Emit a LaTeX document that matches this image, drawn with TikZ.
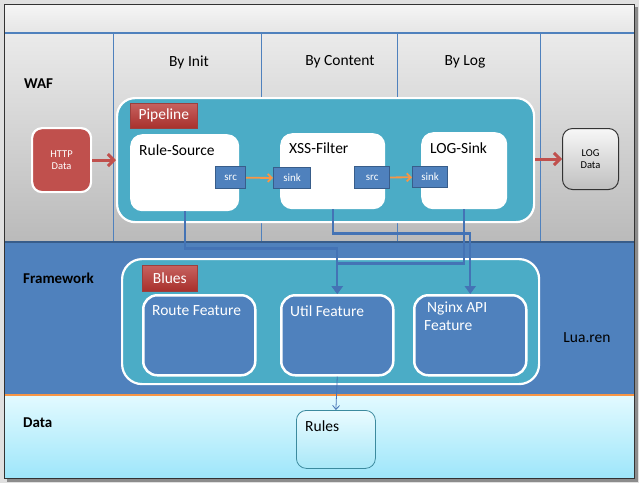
\documentclass[tikz,border=0pt]{standalone}
\usepackage{fontspec}
\setmainfont{Carlito}
\usetikzlibrary{arrows.meta,shadows}
\definecolor{tealc}{HTML}{4BACC6}
\definecolor{bluec}{HTML}{4F81BD}
\definecolor{blueb}{HTML}{385D8A}
\definecolor{redc}{HTML}{C0504D}
\definecolor{redd}{HTML}{A8302C}
\definecolor{orangec}{HTML}{F79646}
\definecolor{linec}{HTML}{4473B5}
\definecolor{datatop}{HTML}{E2FAFF}
\definecolor{databot}{HTML}{9EE6FA}
\definecolor{rulestop}{HTML}{EAFBFF}
\definecolor{rulesbot}{HTML}{A8E8F8}
\tikzset{
  lbl/.style={font=\fontsize{15.5}{18}\selectfont, inner sep=0pt},
  blbl/.style={font=\fontsize{15}{18}\selectfont\bfseries, inner sep=0pt},
  container/.style={draw=white, line width=2.2pt, fill=tealc, rounded corners=18pt, anchor=north west, inner sep=0pt},
  whitebox/.style={fill=white, rounded corners=12pt, anchor=north west, inner sep=0pt},
  featbox/.style={draw=white, line width=2.5pt, fill=bluec, rounded corners=14pt, anchor=north west, inner sep=0pt},
  tag/.style={top color=redc!90!white, bottom color=redd, draw=redc!80!black, line width=0.6pt, anchor=north west, inner sep=0pt, font=\fontsize{15.5}{18}\selectfont, text=white},
  port/.style={fill=bluec, draw=blueb, line width=1.2pt, anchor=north west, inner sep=0pt, text=white, font=\fontsize{11}{13}\selectfont},
  portarrow/.style={draw=orangec, line width=1.8pt, -{Straight Barb[length=4pt,width=8pt]}},
  bigarrow/.style={draw=redc, line width=3pt, -{Straight Barb[length=6pt,width=12pt]}},
  conn/.style={draw=linec, line width=2.4pt, -{Triangle[length=8pt,width=11pt]}},
  thinconn/.style={draw=linec, line width=0.8pt, -{Straight Barb[length=4pt,width=7pt]}},
  vline/.style={draw=bluec, line width=0.7pt}
}
\begin{document}
\begin{tikzpicture}[x=1pt,y=-1pt]
\useasboundingbox (0,0) rectangle (639,483);
\fill[black!12] (0,0) rectangle (639,483);
\fill[black!45] (7,7) rectangle (638,482);
% lanes
\shade[top color=black!4, bottom color=black!10] (4,4) rectangle (634,33);
\shade[top color=black!8, bottom color=black!27] (4,33) rectangle (634,241);
\fill[bluec] (4,241) rectangle (634,395);
\draw[blueb, line width=1.5pt] (4,242) -- (634,242);
\shade[top color=datatop, bottom color=databot] (4,396) rectangle (634,478);
\draw[orangec, line width=2pt] (4,395) -- (634,395);
\draw[bluec, line width=1.2pt] (4,33) -- (634,33);
\foreach \xx in {113,261,397,540} \draw[vline] (\xx,33) -- (\xx,241);
\draw[black!80, line width=1pt] (4,4) rectangle (634,478);

% lane labels
\node[blbl, anchor=west] (waf) at (24,84) {WAF};
\node[blbl, anchor=west] (fw) at (23,278) {Framework};
\node[blbl, anchor=west] (dl) at (23,423) {Data};
\node[lbl] (h1) at (189,62) {By Init};
\node[lbl] (h2) at (340,62) {By Content};
\node[lbl] (h3) at (465,62) {By Log};
\node[lbl] (lua) at (587,338) {Lua.ren};

% pipeline
\node[container, minimum width=417, minimum height=124] (pipe) at (116,97) {};
\node[tag, minimum width=67, minimum height=25, drop shadow={opacity=0.3,shadow xshift=1pt,shadow yshift=-1pt}] (ptag) at (130,103) {Pipeline};
\node[whitebox, minimum width=109, minimum height=77] (rs) at (130,134) {};
\node[whitebox, minimum width=105, minimum height=76] (xss) at (280,133) {};
\node[whitebox, minimum width=86, minimum height=77] (ls) at (421,132) {};
\node[lbl, anchor=west] at (139,150) {Rule-Source};
\node[lbl, anchor=west] at (289,148) {XSS-Filter};
\node[lbl, anchor=west] at (430,148) {LOG-Sink};
\node[port, minimum width=30, minimum height=22] (src1) at (215,166) {src};
\node[port, minimum width=37, minimum height=21] (sink1) at (273,167) {sink};
\node[port, minimum width=35, minimum height=22] (src2) at (354,166) {src};
\node[port, minimum width=35, minimum height=21] (sink2) at (412,166) {sink};
\draw[portarrow] (src1) -- (sink1);
\draw[portarrow] (src2) -- (sink2);

% in/out data
\node[draw=white, line width=2.2pt, fill=redc, rounded corners=10pt, minimum width=59, minimum height=64, anchor=north west, align=center, text=white, font=\fontsize{10.5}{12}\selectfont, drop shadow={opacity=0.25,shadow xshift=1pt,shadow yshift=-1pt}] (http) at (31,127) {HTTP\\Data};
\node[draw=black!80, line width=1pt, top color=black!3, bottom color=black!25, rounded corners=10pt, minimum width=56, minimum height=61, anchor=north west, align=center, font=\fontsize{10.5}{12}\selectfont] (logd) at (562,128) {LOG\\Data};
\draw[bigarrow] (http.east) -- (http.east -| pipe.west);
\draw[bigarrow] (pipe.east |- logd.west) -- (logd.west);

% blues
\node[container, rounded corners=20pt, minimum width=417, minimum height=125] (blues) at (121,258) {};
\node[tag, minimum width=55, minimum height=26, drop shadow={opacity=0.3,shadow xshift=1pt,shadow yshift=-1pt}] (btag) at (142,265) {Blues};
\node[featbox, minimum width=112, minimum height=80] (route) at (142,294) {};
\node[featbox, minimum width=112, minimum height=80] (util) at (280,294) {};
\node[featbox, minimum width=112, minimum height=80] (ng) at (413,294) {};
\node[lbl, anchor=west, text=white] at (152,311) {Route Feature};
\node[lbl, anchor=west, text=white] at (290,311) {Util Feature};
\node[lbl, anchor=north west, text=white, align=left] at (424,302) {\hspace{3pt}Nginx API\\Feature};

% rules
\node[draw=tealc!80!black, line width=0.8pt, top color=rulestop, bottom color=rulesbot, rounded corners=10pt, minimum width=79, minimum height=58, anchor=north west] (rules) at (296,410) {};
\node[lbl, anchor=west] at (305,426) {Rules};

% connectors
\draw[conn] (rs.south) -- ++(0,37) -| (util.north);
\draw[conn] (xss.south) -- ++(0,24) -| (ng.north);
\draw[conn] (ls.south) -- ++(0,54) -| (util.north);
\draw[thinconn] (util.south) -- (rules.north);
\end{tikzpicture}
\end{document}
